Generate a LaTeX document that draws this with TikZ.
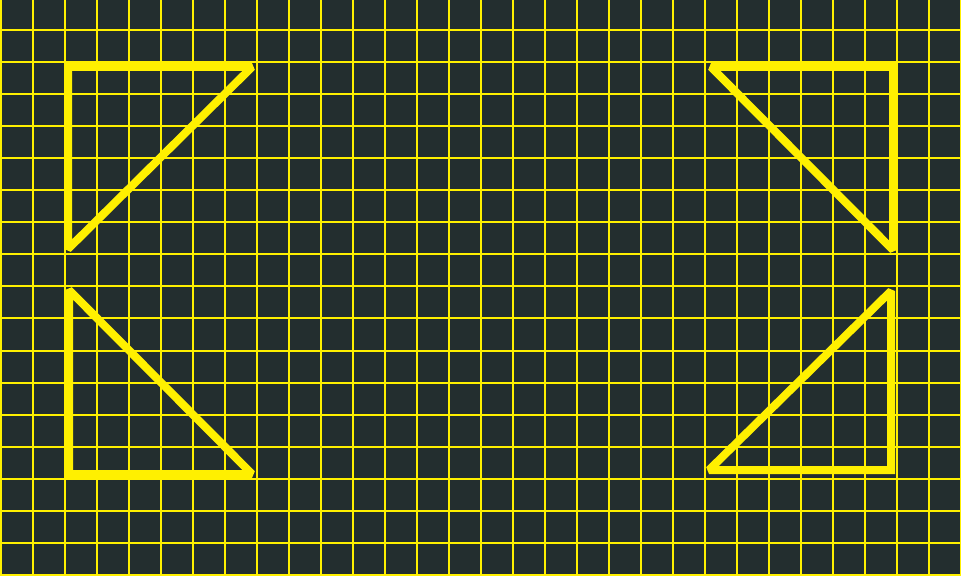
\documentclass[tikz,border=0pt]{standalone}
\usepackage{xcolor}
\definecolor{slate}{HTML}{232E2F}
\definecolor{lemon}{HTML}{FFF000}
\tikzset{
  gridline/.style={draw=lemon,line width=1pt},
  wedge/.style={draw=lemon,line width=4pt,line join=miter,miter limit=2}
}

\begin{document}
\begin{tikzpicture}[x=0.5pt,y=-0.5pt]
    \fill[slate] (0,0) rectangle (961,576);
    \useasboundingbox (0,0) rectangle (961,576);
    \begin{scope}
      \clip (0,0) rectangle (961,576);
      \foreach \i in {0,...,30}
        \draw[gridline] ({0.5+32*\i},0) -- ({0.5+32*\i},576);
      \foreach \j in {0,...,17}
        \draw[gridline] (0,{30.5+32*\j}) -- (961,{30.5+32*\j});
    \end{scope}
    % corner wedges
    \draw[wedge] (68,67) -- (252,67) -- (68,249) -- cycle;
    \draw[wedge] (711,67) -- (893,67) -- (893,250) -- cycle;
    \draw[wedge] (69,290) -- (69,474) -- (252,474) -- cycle;
    \draw[wedge] (709,470) -- (891,470) -- (891,291) -- cycle;
  \end{tikzpicture}
\end{document}
